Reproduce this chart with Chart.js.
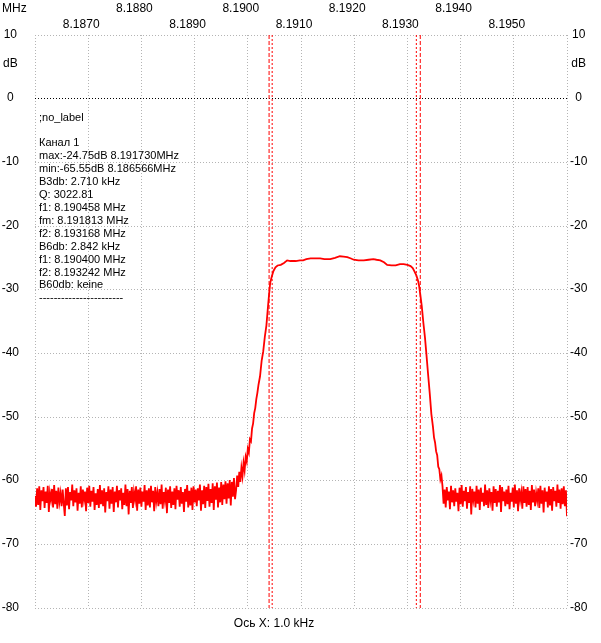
<!DOCTYPE html>
<html>
<head>
<meta charset="utf-8">
<script src="https://cdn.jsdelivr.net/npm/chart.js@4.4.1/dist/chart.umd.min.js"></script>
<style>
html,body{margin:0;padding:0;background:#fff;}
canvas{display:block;}
</style>
</head>
<body>
<canvas id="c" width="601" height="643"></canvas>
<script>
// ---- axis ticks ----
const freqTicks = [8.186, 8.187, 8.188, 8.189, 8.190, 8.191, 8.192, 8.193, 8.194, 8.195, 8.196];
const freqTickLabels = ['', '8.1870', '8.1880', '8.1890', '8.1900', '8.1910', '8.1920', '8.1930', '8.1940', '8.1950', ''];
const dbTicks = [10, 5.4, 0, -10, -20, -30, -40, -50, -60, -70, -80];
const dbTickLabels = ['10', 'dB', '0', '-10', '-20', '-30', '-40', '-50', '-60', '-70', '-80'];

// ---- sweep data (MHz, dB) ----
const sweepStep = 0.00002;
const noiseLeftStart = 8.18600;
const noiseLeft = [
-62.4,-64.1,-61.2,-63.8,-60.9,-64.6,-61.5,-63.2,-61.0,-64.3,
-61.7,-63.5,-60.8,-64.9,-61.9,-63.0,-61.3,-64.2,-60.7,-63.7,
-61.6,-64.4,-61.1,-63.3,-62.0,-64.0,-61.4,-63.6,-65.55,-61.2,
-63.9,-61.0,-64.5,-61.8,-63.1,-60.6,-64.0,-61.5,-63.4,-61.2,
-64.7,-61.9,-63.6,-60.9,-64.2,-61.4,-63.0,-61.7,-64.8,-61.1,
-63.5,-60.8,-64.1,-61.6,-63.3,-61.0,-64.6,-62.0,-63.8,-61.3,
-64.3,-60.7,-63.7,-61.5,-64.0,-61.2,-65.0,-61.8,-63.2,-60.9,
-64.4,-61.4,-63.6,-61.0,-64.9,-61.7,-63.4,-60.8,-64.2,-61.5,
-63.1,-61.2,-64.5,-61.9,-63.8,-60.6,-64.0,-61.3,-65.3,-61.6,
-63.5,-61.0,-64.3,-61.8,-63.0,-60.9,-64.7,-61.4,-63.6,-61.1,
-64.1,-61.7,-63.3,-60.7,-64.6,-61.5,-63.9,-61.2,-64.2,-60.8,
-63.4,-61.6,-64.8,-61.0,-63.2,-61.9,-64.0,-61.3,-63.7,-60.6,
-64.4,-61.8,-63.1,-61.1,-65.1,-61.4,-63.5,-60.9,-64.3,-61.7,
-63.8,-61.2,-64.5,-60.8,-63.0,-61.5,-64.1,-61.0,-63.6,-61.8,
-64.9,-61.3,-63.3,-60.7,-64.2,-61.6,-63.9,-61.1,-64.6,-60.9,
-63.4,-61.4,-64.0,-61.2,-63.1,-60.6,-64.7,-61.5,-63.7,-60.8,
-64.3,-61.0,-63.2,-60.5,-64.1,-61.3,-63.5,-60.4,-64.6,-60.9,
-63.0,-60.3,-64.2,-61.1,-63.4,-60.2,-63.8,-60.6,-62.9,-60.1,
-63.6,-60.4,-62.8,-59.9,-63.9,-60.2,-62.5,-59.6,-62.9
];
const filterFreqs = [
8.189780,8.189800,8.189820,8.189840,8.189860,8.189880,8.189900,8.189920,8.189940,8.189960,
8.189980,8.190000,8.190020,8.190040,8.190060,8.190080,8.190100,8.190120,8.190140,8.190160,
8.190180,8.190200,8.190230,8.190260,8.190290,8.190320,8.190350,8.190380,8.190400,8.190420,
8.190440,8.190458,8.190480,8.190520,8.190560,8.190620,8.190680,8.190740,8.190800,8.190900,
8.190980,8.191040,8.191100,8.191180,8.191280,8.191360,8.191440,8.191550,8.191640,8.191730,
8.191800,8.191870,8.191940,8.191990,8.192080,8.192180,8.192270,8.192360,8.192420,8.192490,
8.192560,8.192620,8.192700,8.192780,8.192860,8.192930,8.193000,8.193060,8.193100,8.193130,
8.193168,8.193200,8.193220,8.193242,8.193270,8.193300,8.193330,8.193360,8.193390,8.193420,
8.193450,8.193480,8.193500,8.193520,8.193540,8.193560,8.193580,8.193600,8.193620,8.193640
];
const filterLevels = [
-61.5,-59.2,-61.0,-58.6,-60.2,-58.0,-59.3,-57.2,-58.4,-56.3,
-57.0,-55.0,-55.6,-53.5,-53.8,-51.8,-51.0,-49.4,-48.6,-47.2,
-46.2,-45.0,-43.6,-41.2,-39.7,-37.4,-35.6,-32.6,-30.75,-29.0,
-28.3,-27.75,-27.1,-26.5,-26.2,-26.1,-25.8,-25.4,-25.5,-25.5,
-25.4,-25.4,-25.2,-25.1,-25.1,-25.1,-25.2,-25.2,-25.0,-24.75,
-24.8,-24.9,-25.1,-25.3,-25.4,-25.4,-25.3,-25.2,-25.3,-25.4,
-25.7,-26.1,-26.2,-26.2,-26.0,-26.0,-26.1,-26.3,-26.6,-27.1,
-27.75,-28.6,-29.4,-30.75,-32.6,-35.2,-37.5,-40.4,-43.4,-46.3,
-49.5,-51.5,-53.2,-54.0,-55.4,-56.0,-57.8,-58.2,-59.8,-59.2
];
const noiseRightStart = 8.19366;
const noiseRight = [
-60.9,-63.6,-61.4,-64.2,-61.0,-63.1,-61.7,-64.5,-60.8,-63.4,
-61.5,-64.0,-61.2,-63.3,-61.9,-64.8,-61.1,-63.7,-60.7,-64.1,
-61.6,-63.2,-61.0,-64.4,-61.8,-63.5,-60.9,-65.3,-61.3,-63.0,
-61.7,-64.2,-60.8,-63.6,-61.4,-64.6,-61.1,-63.3,-61.9,-64.0,
-60.6,-63.8,-61.5,-64.3,-61.2,-63.1,-61.8,-64.7,-60.9,-63.5,
-61.3,-64.1,-61.6,-63.4,-60.7,-64.9,-61.0,-63.2,-61.7,-64.0,
-61.4,-63.7,-60.8,-64.5,-61.9,-63.3,-61.1,-64.2,-60.6,-63.6,
-61.5,-64.8,-61.2,-63.0,-61.8,-64.4,-60.9,-63.5,-61.3,-64.1,
-61.0,-63.8,-61.6,-64.6,-60.7,-63.4,-61.4,-64.0,-61.9,-63.1,
-61.2,-64.3,-60.8,-63.6,-61.5,-65.0,-61.1,-63.3,-61.7,-64.2,
-60.9,-63.9,-61.3,-64.7,-61.0,-63.2,-61.6,-64.1,-60.6,-63.5,
-61.4,-64.4,-61.2,-63.7,-60.9,-64.0,-61.5,-65.6
];

// ---- markers (MHz) ----
const marker3dB = [8.190458, 8.193168];
const marker6dB = [8.190400, 8.193242];

// ---- texts ----
const infoLines = [
';no_label',
'',
'Канал 1',
'max:-24.75dB 8.191730MHz',
'min:-65.55dB 8.186566MHz',
'B3db: 2.710 kHz',
'Q: 3022.81',
'f1: 8.190458 MHz',
'fm: 8.191813 MHz',
'f2: 8.193168 MHz',
'B6db: 2.842 kHz',
'f1: 8.190400 MHz',
'f2: 8.193242 MHz',
'B60db: keine',
'-----------------------'
];
const unitX = 'MHz';
const axisXText = 'Ось X: 1.0 kHz';

// ---- build points ----
const curve = [];
noiseLeft.forEach((v, i) => curve.push({x: noiseLeftStart + i * sweepStep, y: v}));
filterFreqs.forEach((f, i) => curve.push({x: f, y: filterLevels[i]}));
noiseRight.forEach((v, i) => curve.push({x: noiseRightStart + i * sweepStep, y: v}));

function markerSet(f, dash) {
  return {
    data: [{x: f, y: 10}, {x: f, y: -80}],
    borderColor: '#ff0000', borderWidth: 1, borderDash: dash,
    pointRadius: 0, fill: false
  };
}

const FONT = 'Liberation Sans, Arial, sans-serif';
const GRID = '#b4b4b4';

const textPlugin = {
  id: 'texts',
  afterDraw(chart) {
    const ctx = chart.ctx;
    ctx.save();
    ctx.fillStyle = '#000';
    ctx.font = '12px ' + FONT;
    ctx.textBaseline = 'middle';
    ctx.textAlign = 'left';
    ctx.fillText(unitX, 2, 8.5);
    ctx.textAlign = 'center';
    ctx.fillText(axisXText, 274, 624);
    ctx.textAlign = 'left';
    ctx.font = '11px ' + FONT;
    infoLines.forEach((t, i) => {
      if (!t) return;
      const y = i === 0 ? 117.5 : 143 + (i - 2) * 12.95;
      ctx.fillText(t, 39, y);
    });
    ctx.restore();
  }
};

new Chart(document.getElementById('c'), {
  type: 'line',
  data: {
    datasets: [
      {data: curve, borderColor: '#ff0000', borderWidth: 1.8, pointRadius: 0, tension: 0, fill: false},
      markerSet(marker6dB[0], [4, 2]),
      markerSet(marker3dB[0], [2, 2]),
      markerSet(marker3dB[1], [2, 2]),
      markerSet(marker6dB[1], [4, 2])
    ]
  },
  options: {
    responsive: false,
    animation: false,
    events: [],
    layout: {padding: {left: 0, right: 0, top: 0, bottom: 35}},
    plugins: {legend: {display: false}, tooltip: {enabled: false}, title: {display: false}},
    scales: {
      x: {
        type: 'linear', position: 'top', min: 8.186, max: 8.196,
        afterBuildTicks: s => { s.ticks = freqTicks.map(v => ({value: v})); },
        afterFit: s => { s.height = 35; },
        ticks: {
          autoSkip: false, maxRotation: 0, minRotation: 0, padding: 3, labelOffset: -7,
          color: '#000', font: {family: FONT, size: 12, lineHeight: 1.3},
          callback: (v, i) => {
            const l = freqTickLabels[i];
            if (!l) return ['', ''];
            return (i % 2 === 1) ? ['', l] : [l, ''];
          }
        },
        grid: {color: GRID, lineWidth: 1, drawTicks: false},
        border: {display: false, dash: [1, 2]}
      },
      y: {
        type: 'linear', position: 'left', min: -80, max: 10,
        afterBuildTicks: s => { s.ticks = dbTicks.map(v => ({value: v})); },
        afterFit: s => { s.width = 35; },
        ticks: {
          autoSkip: false, crossAlign: 'center', padding: 16, labelOffset: -0.5,
          color: '#000', font: {family: FONT, size: 12},
          callback: (v, i) => dbTickLabels[i]
        },
        grid: {
          lineWidth: 1, drawTicks: false,
          color: c => c.tick && c.tick.value === 0 ? '#000000' : (c.tick && c.tick.value === 5.4 ? 'rgba(0,0,0,0)' : GRID)
        },
        border: {display: false, dash: [1, 2]}
      },
      y2: {
        type: 'linear', position: 'right', min: -80, max: 10,
        afterBuildTicks: s => { s.ticks = dbTicks.map(v => ({value: v})); },
        afterFit: s => { s.width = 34; },
        ticks: {
          autoSkip: false, crossAlign: 'center', padding: 3, labelOffset: -0.5,
          color: '#000', font: {family: FONT, size: 12},
          callback: (v, i) => dbTickLabels[i]
        },
        grid: {display: false, drawTicks: false},
        border: {display: false}
      }
    }
  },
  plugins: [textPlugin]
});
</script>
</body>
</html>
